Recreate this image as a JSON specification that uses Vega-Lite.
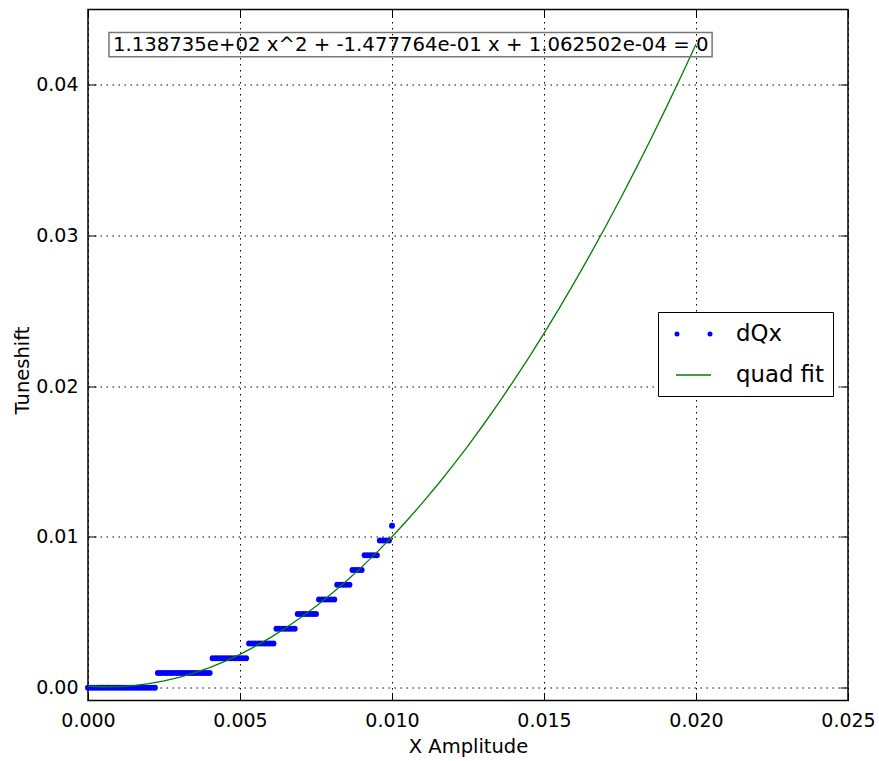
{
  "$schema": "https://vega.github.io/schema/vega-lite/v6.json",
  "width": 760,
  "height": 691,
  "autosize": {"type": "none"},
  "padding": {"left": 88, "top": 9.5, "right": 31, "bottom": 60},
  "background": "white",
  "config": {
    "font": "DejaVu Sans",
    "view": {"stroke": "black", "strokeWidth": 1.5},
    "axis": {
      "domain": false,
      "grid": true,
      "gridColor": "black",
      "gridDash": [1.5, 4.5],
      "gridWidth": 1,
      "gridOpacity": 1,
      "ticks": true,
      "tickColor": "black",
      "tickSize": -8,
      "tickWidth": 1,
      "labelFlush": false,
      "labelOverlap": false,
      "labelColor": "black",
      "labelFontSize": 19,
      "labelFont": "DejaVu Sans",
      "titleColor": "black",
      "titleFontSize": 19.5,
      "titleFontWeight": "normal",
      "titleFont": "DejaVu Sans"
    }
  },
  "datasets": {
    "dots": [
      {"x":0.0000,"y":0},{"x":0.0001,"y":0},{"x":0.0002,"y":0},{"x":0.0003,"y":0},{"x":0.0004,"y":0},{"x":0.0005,"y":0},{"x":0.0006,"y":0},{"x":0.0007,"y":0},{"x":0.0008,"y":0},{"x":0.0009,"y":0},{"x":0.0010,"y":0},{"x":0.0011,"y":0},{"x":0.0012,"y":0},{"x":0.0013,"y":0},{"x":0.0014,"y":0},{"x":0.0015,"y":0},{"x":0.0016,"y":0},{"x":0.0017,"y":0},{"x":0.0018,"y":0},{"x":0.0019,"y":0},{"x":0.0020,"y":0},{"x":0.0021,"y":0},{"x":0.0022,"y":0},
      {"x":0.0023,"y":0.000977},{"x":0.0024,"y":0.000977},{"x":0.0025,"y":0.000977},{"x":0.0026,"y":0.000977},{"x":0.0027,"y":0.000977},{"x":0.0028,"y":0.000977},{"x":0.0029,"y":0.000977},{"x":0.0030,"y":0.000977},{"x":0.0031,"y":0.000977},{"x":0.0032,"y":0.000977},{"x":0.0033,"y":0.000977},{"x":0.0034,"y":0.000977},{"x":0.0035,"y":0.000977},{"x":0.0036,"y":0.000977},{"x":0.0037,"y":0.000977},{"x":0.0038,"y":0.000977},{"x":0.0039,"y":0.000977},{"x":0.0040,"y":0.000977},
      {"x":0.0041,"y":0.001953},{"x":0.0042,"y":0.001953},{"x":0.0043,"y":0.001953},{"x":0.0044,"y":0.001953},{"x":0.0045,"y":0.001953},{"x":0.0046,"y":0.001953},{"x":0.0047,"y":0.001953},{"x":0.0048,"y":0.001953},{"x":0.0049,"y":0.001953},{"x":0.0050,"y":0.001953},{"x":0.0051,"y":0.001953},{"x":0.0052,"y":0.001953},
      {"x":0.0053,"y":0.00293},{"x":0.0054,"y":0.00293},{"x":0.0055,"y":0.00293},{"x":0.0056,"y":0.00293},{"x":0.0057,"y":0.00293},{"x":0.0058,"y":0.00293},{"x":0.0059,"y":0.00293},{"x":0.0060,"y":0.00293},{"x":0.0061,"y":0.00293},
      {"x":0.0062,"y":0.003906},{"x":0.0063,"y":0.003906},{"x":0.0064,"y":0.003906},{"x":0.0065,"y":0.003906},{"x":0.0066,"y":0.003906},{"x":0.0067,"y":0.003906},{"x":0.0068,"y":0.003906},
      {"x":0.0069,"y":0.004883},{"x":0.0070,"y":0.004883},{"x":0.0071,"y":0.004883},{"x":0.0072,"y":0.004883},{"x":0.0073,"y":0.004883},{"x":0.0074,"y":0.004883},{"x":0.0075,"y":0.004883},
      {"x":0.0076,"y":0.005859},{"x":0.0077,"y":0.005859},{"x":0.0078,"y":0.005859},{"x":0.0079,"y":0.005859},{"x":0.0080,"y":0.005859},{"x":0.0081,"y":0.005859},
      {"x":0.0082,"y":0.006836},{"x":0.0083,"y":0.006836},{"x":0.0084,"y":0.006836},{"x":0.0085,"y":0.006836},{"x":0.0086,"y":0.006836},
      {"x":0.0087,"y":0.007813},{"x":0.0088,"y":0.007813},{"x":0.0089,"y":0.007813},{"x":0.0090,"y":0.007813},
      {"x":0.0091,"y":0.008789},{"x":0.0092,"y":0.008789},{"x":0.0093,"y":0.008789},{"x":0.0094,"y":0.008789},{"x":0.0095,"y":0.008789},
      {"x":0.0096,"y":0.009766},{"x":0.0097,"y":0.009766},{"x":0.0098,"y":0.009766},{"x":0.0099,"y":0.009766},
      {"x":0.0100,"y":0.010742}
    ],
    "fit": [
      {"x":0.0000,"y":0.00010625},{"x":0.0005,"y":0.00006083},{"x":0.0010,"y":0.00007234},{"x":0.0015,"y":0.00014081},{"x":0.0020,"y":0.00026619},{"x":0.0025,"y":0.00044852},{"x":0.0030,"y":0.00068778},{"x":0.0035,"y":0.00098398},{"x":0.0040,"y":0.00133712},{"x":0.0045,"y":0.0017472},{"x":0.0050,"y":0.00221421},{"x":0.0055,"y":0.00273815},{"x":0.0060,"y":0.00331904},{"x":0.0065,"y":0.00395686},{"x":0.0070,"y":0.00465162},{"x":0.0075,"y":0.00540331},{"x":0.0080,"y":0.00621194},{"x":0.0085,"y":0.00707751},{"x":0.0090,"y":0.00800001},{"x":0.0095,"y":0.00897945},{"x":0.0100,"y":0.01001584},{"x":0.0105,"y":0.01110915},{"x":0.0110,"y":0.0122594},{"x":0.0115,"y":0.01346659},{"x":0.0120,"y":0.01473071},{"x":0.0125,"y":0.01605177},{"x":0.0130,"y":0.01742978},{"x":0.0135,"y":0.01886472},{"x":0.0140,"y":0.02035659},{"x":0.0145,"y":0.02190539},{"x":0.0150,"y":0.02351114},{"x":0.0155,"y":0.02517383},{"x":0.0160,"y":0.02689345},{"x":0.0165,"y":0.02867},{"x":0.0170,"y":0.03050349},{"x":0.0175,"y":0.03239392},{"x":0.0180,"y":0.03434128},{"x":0.0185,"y":0.0363456},{"x":0.0190,"y":0.03840683},{"x":0.0195,"y":0.04052501},{"x":0.0200,"y":0.04270012}
    ],
    "note": [
      {"label": "1.138735e+02 x^2 + -1.477764e-01 x + 1.062502e-04 = 0"}
    ]
  },
  "layer": [
    {
      "data": {"name": "dots"},
      "mark": {"type": "point", "filled": true, "size": 36, "opacity": 1},
      "encoding": {
        "x": {
          "field": "x", "type": "quantitative",
          "scale": {"domain": [0, 0.025], "nice": false, "zero": false, "padding": 0},
          "axis": {
            "orient": "bottom",
            "values": [0, 0.005, 0.01, 0.015, 0.02, 0.025],
            "format": ".3f",
            "labelPadding": 19,
            "title": "X Amplitude",
            "titleBaseline": "alphabetic",
            "titleY": 52
          }
        },
        "y": {
          "field": "y", "type": "quantitative",
          "scale": {"domain": [-0.00085, 0.045], "nice": false, "zero": false, "padding": 0},
          "axis": {
            "orient": "left",
            "values": [0, 0.01, 0.02, 0.03, 0.04],
            "format": ".2f",
            "labelPadding": 18,
            "title": "Tuneshift",
            "titleX": -66,
            "titleY": 360.5,
            "titleAngle": -90,
            "titleBaseline": "middle",
            "titleAlign": "center"
          }
        },
        "color": {
          "datum": "dQx",
          "type": "nominal",
          "scale": {"domain": ["dQx", "quad fit"], "range": ["#0000ff", "#008000"]},
          "legend": {
            "title": null,
            "orient": "none",
            "legendX": 570,
            "legendY": 302.5,
            "padding": 8.5,
            "strokeColor": "black",
            "fillColor": "white",
            "cornerRadius": 0,
            "symbolSize": 625,
            "symbolOffset": 13.5,
            "symbolType": {"expr": "datum.value === 'dQx' ? 'M-1.46,0a0.14,0.14 0 1,0 0.28,0a0.14,0.14 0 1,0 -0.28,0M1.18,0a0.14,0.14 0 1,0 0.28,0a0.14,0.14 0 1,0 -0.28,0' : 'M-1.4,0L1.4,0'"},
            "labelOffset": 29,
            "labelFontSize": 22.8,
            "labelFont": "DejaVu Sans",
            "labelColor": "black",
            "rowPadding": 15,
            "encode": {
              "legend": {"strokeWidth": {"value": 1.5}},
              "symbols": {
                "shape": {"value": {"signal": "datum.value === 'dQx' ? 'M-1.46,0a0.14,0.14 0 1,0 0.28,0a0.14,0.14 0 1,0 -0.28,0M1.18,0a0.14,0.14 0 1,0 0.28,0a0.14,0.14 0 1,0 -0.28,0' : 'M-1.4,0L1.4,0'"}},
                "fillOpacity": {"value": {"signal": "datum.value === 'dQx' ? 1 : 0"}},
                "strokeOpacity": {"value": {"signal": "datum.value === 'dQx' ? 0 : 1"}},
                "strokeWidth": {"value": 1.5},
                "size": {"value": 625},
                "opacity": {"value": 1}
              }
            }
          }
        }
      }
    },
    {
      "data": {"name": "fit"},
      "mark": {"type": "line", "strokeWidth": 1.3},
      "encoding": {
        "x": {"field": "x", "type": "quantitative", "scale": {"domain": [0, 0.025], "nice": false, "zero": false, "padding": 0}, "axis": null},
        "y": {"field": "y", "type": "quantitative", "scale": {"domain": [-0.00085, 0.045], "nice": false, "zero": false, "padding": 0}, "axis": null},
        "color": {"datum": "quad fit", "type": "nominal"}
      }
    },
    {
      "data": {"name": "note"},
      "mark": {"type": "rect", "fill": null, "fillOpacity": 0, "stroke": "#777777", "strokeWidth": 1.5},
      "encoding": {
        "x": {"datum": 0.00069, "type": "quantitative", "scale": {"domain": [0, 0.025], "nice": false, "zero": false, "padding": 0},
          "axis": {"orient": "top", "values": [0, 0.005, 0.01, 0.015, 0.02, 0.025], "labels": false, "grid": false, "title": null}},
        "x2": {"datum": 0.02053},
        "y": {"datum": 0.04348, "type": "quantitative", "scale": {"domain": [-0.00085, 0.045], "nice": false, "zero": false, "padding": 0},
          "axis": {"orient": "right", "values": [0, 0.01, 0.02, 0.03, 0.04], "labels": false, "grid": false, "title": null}},
        "y2": {"datum": 0.04186}
      }
    },
    {
      "data": {"name": "note"},
      "mark": {"type": "text", "align": "left", "baseline": "middle", "fontSize": 19.7, "font": "DejaVu Sans", "color": "black"},
      "encoding": {
        "x": {"datum": 0.00082, "type": "quantitative", "scale": {"domain": [0, 0.025], "nice": false, "zero": false, "padding": 0}, "axis": null},
        "y": {"datum": 0.04262, "type": "quantitative", "scale": {"domain": [-0.00085, 0.045], "nice": false, "zero": false, "padding": 0}, "axis": null},
        "text": {"field": "label"}
      }
    }
  ],
  "resolve": {"axis": {"x": "independent", "y": "independent"}}
}
